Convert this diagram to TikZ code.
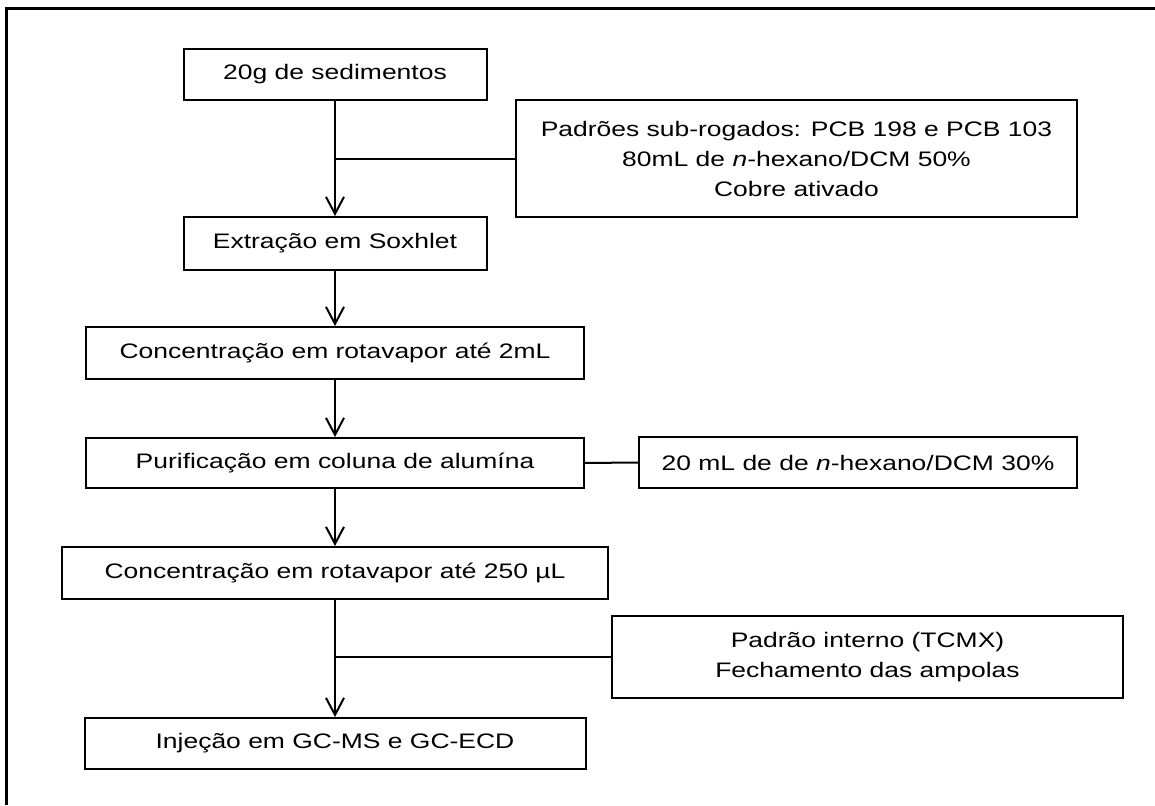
\documentclass[tikz,border=0pt]{standalone}
\usepackage{fontspec}
\setmainfont{Liberation Sans}[FakeStretch=1.26]
\usetikzlibrary{arrows.meta}

\begin{document}
\begin{tikzpicture}[x=0.5pt, y=-0.5pt,
    caixa/.style={rectangle, draw, line width=1pt, inner sep=0pt, align=center, font=\fontsize{10.5}{15}\selectfont},
    seta/.style={-{Straight Barb[length=8.5pt, width=9pt]}, line width=1pt}]
    \useasboundingbox (0,0) rectangle (1155,805);
    \draw[line width=1.5pt] (6,805) |- (1155,8);

    \node (sed) [caixa, minimum width=151.5pt, minimum height=25.5pt] at (335, 74.5) {20g de sedimentos};
    \node (padr) [caixa, minimum width=280.5pt, minimum height=58.5pt] at (796.5, 158.5) {Padrões sub-rogados: PCB 198 e PCB 103\\80mL de \textit{n}-hexano/DCM 50\%\\Cobre ativado};
    \node (extr) [caixa, minimum width=151.5pt, minimum height=26.5pt] at (335, 243.5) {Extração em Soxhlet};
    \node (conc1) [caixa, minimum width=249pt, minimum height=26pt] at (335, 353) {Concentração em rotavapor até 2mL};
    \node (purif) [caixa, minimum width=249pt, minimum height=25pt] at (335, 463) {Purificação em coluna de alumína};
    \node (hex) [caixa, minimum width=219pt, minimum height=25.5pt] at (858, 462.5) {20 mL de de \textit{n}-hexano/DCM 30\%};
    \node (conc2) [caixa, minimum width=273pt, minimum height=26pt] at (335, 573) {Concentração em rotavapor até 250 µL};
    \node (intern) [caixa, minimum width=255.5pt, minimum height=41pt] at (867.5, 657) {Padrão interno (TCMX)\\Fechamento das ampolas};
    \node (inj) [caixa, minimum width=250.5pt, minimum height=25.5pt] at (335, 743.5) {Injeção em GC-MS e GC-ECD};

    \draw[seta] (sed) -- (extr);
    \draw[line width=1pt] (padr.west) -- (padr.west -| sed.south);
    \draw[seta] (extr) -- (conc1);
    \draw[seta] (conc1) -- (purif);
    \draw[line width=1pt] (purif) -- (hex);
    \draw[seta] (purif) -- (conc2);
    \draw[seta] (conc2) -- (inj);
    \draw[line width=1pt] (intern.west) -- (intern.west -| conc2.south);
\end{tikzpicture}
\end{document}
